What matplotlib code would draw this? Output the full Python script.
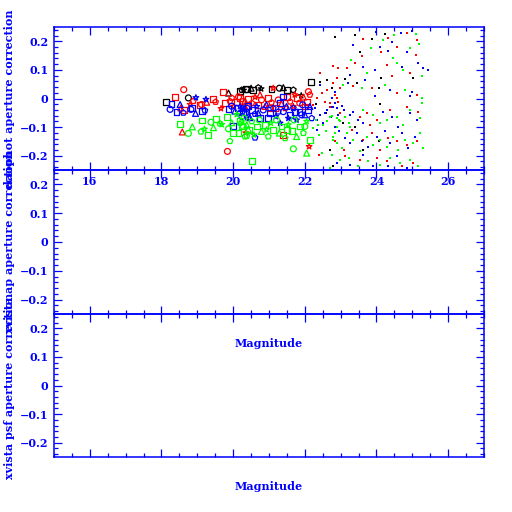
import matplotlib
matplotlib.use("Agg")
import matplotlib.pyplot as plt
from matplotlib.ticker import MultipleLocator

# magnitude / aperture correction (top panel only)
black_mag = [18.12, 18.75, 19.87, 20.19, 20.24, 20.29, 20.36, 20.38, 20.50, 20.56,
             20.70, 20.78, 21.07, 21.29, 21.40, 21.49, 21.68, 21.90, 22.17, 22.30,
             22.42, 22.60, 22.63, 22.70,
             22.84, 23.40, 23.87, 24.24, 23.54, 24.12, 25.01, 22.75, 23.12, 23.45,
             24.08, 24.10, 23.07, 23.40, 23.63, 24.08, 22.80]
black_corr = [-0.012, 0.002, 0.019, 0.026, 0.030, 0.029, 0.032, 0.031, 0.036, 0.030,
              0.038, 0.034, 0.032, 0.036, 0.038, 0.030, 0.030, 0.010, 0.059, -0.020,
              0.059, -0.050, 0.065, -0.179,
              0.214, 0.222, 0.208, 0.225, 0.164, 0.071, 0.071, 0.036, 0.067, 0.053,
              0.038, -0.019, -0.086, -0.098, -0.179, -0.150, -0.237]

red_mag = [18.38, 18.62, 18.54, 18.63, 18.89, 18.80, 19.06, 19.12, 19.26, 19.43,
           19.51, 19.66, 19.71, 19.84, 18.58, 19.77, 19.91, 20.01, 20.10, 20.15,
           20.33, 20.38, 19.96, 20.35,
           20.19, 20.26, 20.33, 20.42, 20.52, 20.61, 20.70, 20.79, 20.89, 20.98,
           21.07, 21.12, 21.17, 21.26, 21.35, 21.49, 21.59, 21.68, 21.77, 21.86,
           21.96, 22.05, 22.14, 22.24, 22.33, 22.42, 22.47, 22.56, 22.63, 22.70,
           22.78, 22.84, 22.93, 22.12, 22.40, 21.40,
           20.28, 20.75, 21.03, 21.45, 21.72, 22.00, 22.10,
           23.63, 24.33, 24.84, 25.14, 23.60, 24.12, 24.56, 25.09, 23.40, 23.17,
           24.28, 24.94, 24.42, 22.93, 22.89, 22.80, 22.98, 23.35, 23.87, 24.56,
           25.12, 22.70, 22.89, 22.98, 23.54, 23.73, 23.82, 24.01, 24.38, 24.84,
           25.17, 22.84, 23.08, 23.31, 23.63, 23.87, 24.10, 24.33, 24.56, 24.84,
           25.12, 23.12, 23.54, 24.01, 24.28, 24.70, 25.03]
red_corr = [0.005, 0.031, -0.033, -0.041, -0.009, -0.021, -0.024, -0.021, -0.013, -0.001,
            -0.012, -0.035, 0.023, -0.185, -0.117, -0.015, -0.009, -0.027, -0.013, 0.006,
            -0.009, -0.027, 0.002, -0.120,
            0.001, -0.011, -0.028, -0.002, -0.016, 0.005, -0.022, -0.005, -0.028, 0.001,
            -0.014, 0.036, -0.034, -0.005, -0.019, 0.005, -0.011, -0.028, 0.001, -0.016,
            0.005, -0.011, 0.013, -0.022, 0.001, 0.088, 0.018, -0.011, 0.030, -0.028,
            0.115, 0.013, -0.011, -0.168, -0.197, -0.127,
            -0.034, 0.013, -0.034, -0.034, 0.013, -0.028, 0.024,
            0.208, 0.213, 0.228, 0.205, 0.150, 0.164, 0.181, 0.152, 0.123, 0.106,
            0.117, 0.088, 0.077, 0.106, 0.071, 0.053, 0.036, 0.042, 0.036, 0.018,
            0.013, -0.016, 0.001, -0.051, -0.063, -0.051, -0.092, -0.075, -0.040, -0.028,
            -0.046, -0.150, -0.179, -0.109, -0.144, -0.121, -0.179, -0.139, -0.150, -0.162,
            -0.150, -0.202, -0.214, -0.208, -0.220, -0.237, -0.226]

blue_mag = [18.28, 18.24, 18.52, 18.42, 18.61, 18.96, 18.84, 18.82, 18.95, 19.12,
            19.21, 19.24, 19.87, 19.96, 20.05, 20.12, 20.19, 20.28, 20.42, 20.38,
            20.47, 19.99, 20.61,
            20.19, 20.28, 20.38, 20.42, 20.52, 20.61, 20.66, 20.75, 20.84, 20.93,
            21.03, 21.12, 21.19, 21.31, 21.40, 21.49, 21.59, 21.68, 21.77, 21.85,
            21.94, 22.00, 22.10, 22.19, 22.28, 22.42, 22.52, 22.61, 22.72, 22.84,
            22.91, 21.31, 22.33, 21.40, 22.42,
            20.24, 20.70, 20.98, 21.26, 21.54, 21.72, 21.91, 22.14, 22.33, 22.56,
            22.75, 22.93,
            23.99, 24.42, 24.68, 24.98, 23.35, 24.10, 24.33, 24.84, 25.15, 23.63,
            23.26, 23.96, 24.70, 25.31, 22.84, 23.21, 23.68, 24.38, 24.98, 23.96,
            24.94, 22.75, 22.84, 22.78, 22.91, 23.03, 23.08, 23.26, 23.35, 23.49,
            23.63, 24.19, 24.42, 24.61, 24.94, 25.12, 22.94, 23.12, 23.26, 23.45,
            23.59, 23.77, 24.01, 24.24, 24.38, 24.70, 24.89, 25.08, 22.89, 23.26,
            23.63, 23.91, 24.33, 24.56, 24.84, 25.44]
blue_corr = [-0.019, -0.038, -0.021, -0.046, -0.050, 0.003, -0.033, -0.038, -0.052, -0.044,
             -0.042, -0.003, -0.038, -0.027, -0.044, -0.033, -0.050, -0.038, -0.027, -0.056,
             -0.067, -0.097, -0.137,
             -0.028, -0.046, -0.034, -0.063, -0.040, -0.054, -0.028, -0.069, -0.040, -0.022,
             -0.051, -0.034, -0.063, -0.016, -0.046, -0.028, -0.057, -0.034, -0.075, -0.046,
             -0.022, -0.057, -0.040, -0.069, -0.034, -0.057, -0.086, -0.040, -0.063, -0.098,
             -0.034, -0.086, -0.109, 0.007, 0.048,
             -0.063, -0.051, -0.069, -0.046, -0.069, -0.046, -0.057, -0.028, -0.075, -0.051,
             -0.028, -0.057,
             0.234, 0.199, 0.230, 0.236, 0.187, 0.179, 0.167, 0.164, 0.125, 0.111,
             0.082, 0.100, 0.111, 0.106, 0.024, 0.053, 0.065, 0.030, 0.024, 0.007,
             0.007, 0.001, -0.014, -0.028, -0.034, -0.026, -0.040, -0.057, -0.046, -0.075,
             -0.086, -0.046, -0.063, -0.098, -0.051, -0.075, -0.115, -0.139, -0.156, -0.121,
             -0.150, -0.168, -0.133, -0.115, -0.156, -0.121, -0.173, -0.133, -0.226, -0.232,
             -0.197, -0.237, -0.237, -0.202, -0.243, 0.101]

green_mag = [18.52, 18.75, 18.86, 19.14, 19.10, 19.20, 19.31, 19.38, 19.45, 19.51,
             19.63, 19.68, 19.84, 19.87, 19.96, 19.99, 19.91, 20.10, 20.19, 20.28,
             20.42, 20.15, 20.38,
             20.19, 20.24, 20.30, 20.38, 20.45, 20.52, 20.58, 20.66, 20.73, 20.79,
             20.89, 20.98, 21.05, 21.12, 21.21, 21.29, 21.35, 21.45, 21.54, 21.63,
             21.70, 21.77, 21.86, 21.96, 22.05, 22.14, 22.22, 22.31, 22.40, 22.50,
             22.59, 22.70, 22.78, 22.89, 22.96, 21.68, 22.05, 22.47, 22.70, 20.53,
             20.33, 20.93, 21.49, 22.00, 22.38, 22.61, 22.84,
             24.19, 24.50, 25.10, 23.84, 24.45, 24.94, 25.20, 23.30, 23.73, 24.56,
             24.75, 25.26, 23.07, 23.59, 24.24, 24.80, 25.26, 22.75, 22.89, 22.98,
             23.12, 23.22, 23.26, 23.63, 23.91, 24.10, 24.28, 24.56, 24.75, 24.94,
             25.21, 25.26, 22.80, 22.89, 23.03, 23.17, 23.35, 23.54, 23.73, 23.91,
             24.10, 24.28, 24.47, 24.61, 24.80, 25.03, 25.21, 25.31, 22.75, 22.98,
             23.22, 23.49, 23.77, 24.10, 24.38, 24.66, 24.94, 25.17]
green_corr = [-0.088, -0.122, -0.099, -0.077, -0.116, -0.107, -0.129, -0.083, -0.102, -0.071,
              -0.088, -0.091, -0.066, -0.106, -0.085, -0.120, -0.149, -0.056, -0.079, -0.097,
              -0.108, -0.120, -0.131,
              -0.086, -0.098, -0.069, -0.092, -0.109, -0.080, -0.127, -0.098, -0.075, -0.115,
              -0.092, -0.133, -0.086, -0.109, -0.075, -0.121, -0.098, -0.139, -0.092, -0.115,
              -0.075, -0.133, -0.098, -0.121, -0.080, -0.144, -0.104, -0.075, -0.127, -0.092,
              -0.115, -0.063, -0.144, -0.098, -0.075, -0.176, -0.191, -0.191, -0.243, -0.217,
              -0.133, -0.109, -0.109, -0.098, -0.092, -0.080, -0.121,
              0.204, 0.222, 0.225, 0.178, 0.141, 0.175, 0.191, 0.135, 0.088, 0.125,
              0.100, 0.077, 0.048, 0.036, 0.048, 0.030, 0.001, -0.061, -0.069, -0.080,
              -0.063, -0.086, -0.098, -0.040, -0.057, -0.086, -0.075, -0.063, -0.092, -0.040,
              -0.069, -0.016, -0.133, -0.156, -0.173, -0.121, -0.144, -0.185, -0.133, -0.162,
              -0.144, -0.168, -0.133, -0.179, -0.144, -0.156, -0.121, -0.173, -0.197, -0.214,
              -0.208, -0.237, -0.220, -0.232, -0.208, -0.226, -0.214, -0.237]

ylabels = ["daophot aperture correction",
           "xvista ap aperture correction",
           "xvista psf aperture correction"]

BLUE = "#0000ff"
FONT = dict(family="DejaVu Serif", weight="bold", size=8, color=BLUE)
MARKERS = ["s", "o", "^", "s", "p", "*"]
BRIGHT_LIMIT = 22.2


def style_axis(ax):
    ax.set_facecolor("none")
    ax.set_xlim(15, 27)
    ax.set_ylim(-0.25, 0.25)
    ax.xaxis.set_major_locator(MultipleLocator(2))
    ax.xaxis.set_minor_locator(MultipleLocator(0.5))
    ax.yaxis.set_major_locator(MultipleLocator(0.1))
    ax.yaxis.set_minor_locator(MultipleLocator(0.02))
    ax.tick_params(which="both", direction="in", top=True, right=True,
                   color=BLUE, width=0.9, labelcolor=BLUE)
    ax.tick_params(which="major", length=5.5, pad=4)
    ax.tick_params(which="minor", length=3)
    for s in ax.spines.values():
        s.set_color(BLUE)
        s.set_linewidth(1.1)
    ax.set_yticks([-0.2, -0.1, 0, 0.1, 0.2])
    ax.set_yticklabels(["\u22120.2", "\u22120.1", "0", "0.1", "0.2"], fontdict=FONT)


def draw_points(ax, mag, corr, color):
    bright = [(m, c) for m, c in zip(mag, corr) if m < BRIGHT_LIMIT]
    faint = [(m, c) for m, c in zip(mag, corr) if m >= BRIGHT_LIMIT]
    for k, mk in enumerate(MARKERS):
        pts = bright[k::len(MARKERS)]
        if not pts:
            continue
        ax.scatter([p[0] for p in pts], [p[1] for p in pts], s=18, marker=mk,
                   facecolors="none", edgecolors=color, linewidths=0.9, zorder=3)
    ax.scatter([p[0] for p in faint], [p[1] for p in faint], s=3.5, marker="s",
               color=color, linewidths=0, zorder=3)


fig = plt.figure(figsize=(5.12, 5.12), dpi=100)
left, width = 54 / 512, 430 / 512
ax1 = fig.add_axes([left, 1 - 170 / 512, width, 143 / 512])
ax2 = fig.add_axes([left, 1 - 314 / 512, width, 144 / 512])
ax3 = fig.add_axes([left, 1 - 457 / 512, width, 143 / 512])
ax1.set_zorder(5)

for ax, lab in zip((ax1, ax2, ax3), ylabels):
    style_axis(ax)
    ax.set_ylabel(lab, fontdict=FONT)
    ax.yaxis.set_label_coords(-0.09, 0.5)

ax1.set_xticks([16, 18, 20, 22, 24, 26])
ax1.set_xticklabels(["16", "18", "20", "22", "24", "26"], fontdict=FONT)
ax1.set_xticks([x / 2 for x in range(30, 55)], minor=True)
for ax in (ax2, ax3):
    ax.tick_params(axis="x", labelbottom=False)
    ax.set_xlabel("Magnitude", fontdict=FONT, labelpad=14)

draw_points(ax1, black_mag, black_corr, "black")
draw_points(ax1, red_mag, red_corr, "red")
draw_points(ax1, blue_mag, blue_corr, "blue")
draw_points(ax1, green_mag, green_corr, "#00ff00")

fig.savefig("out.png", dpi=100)
